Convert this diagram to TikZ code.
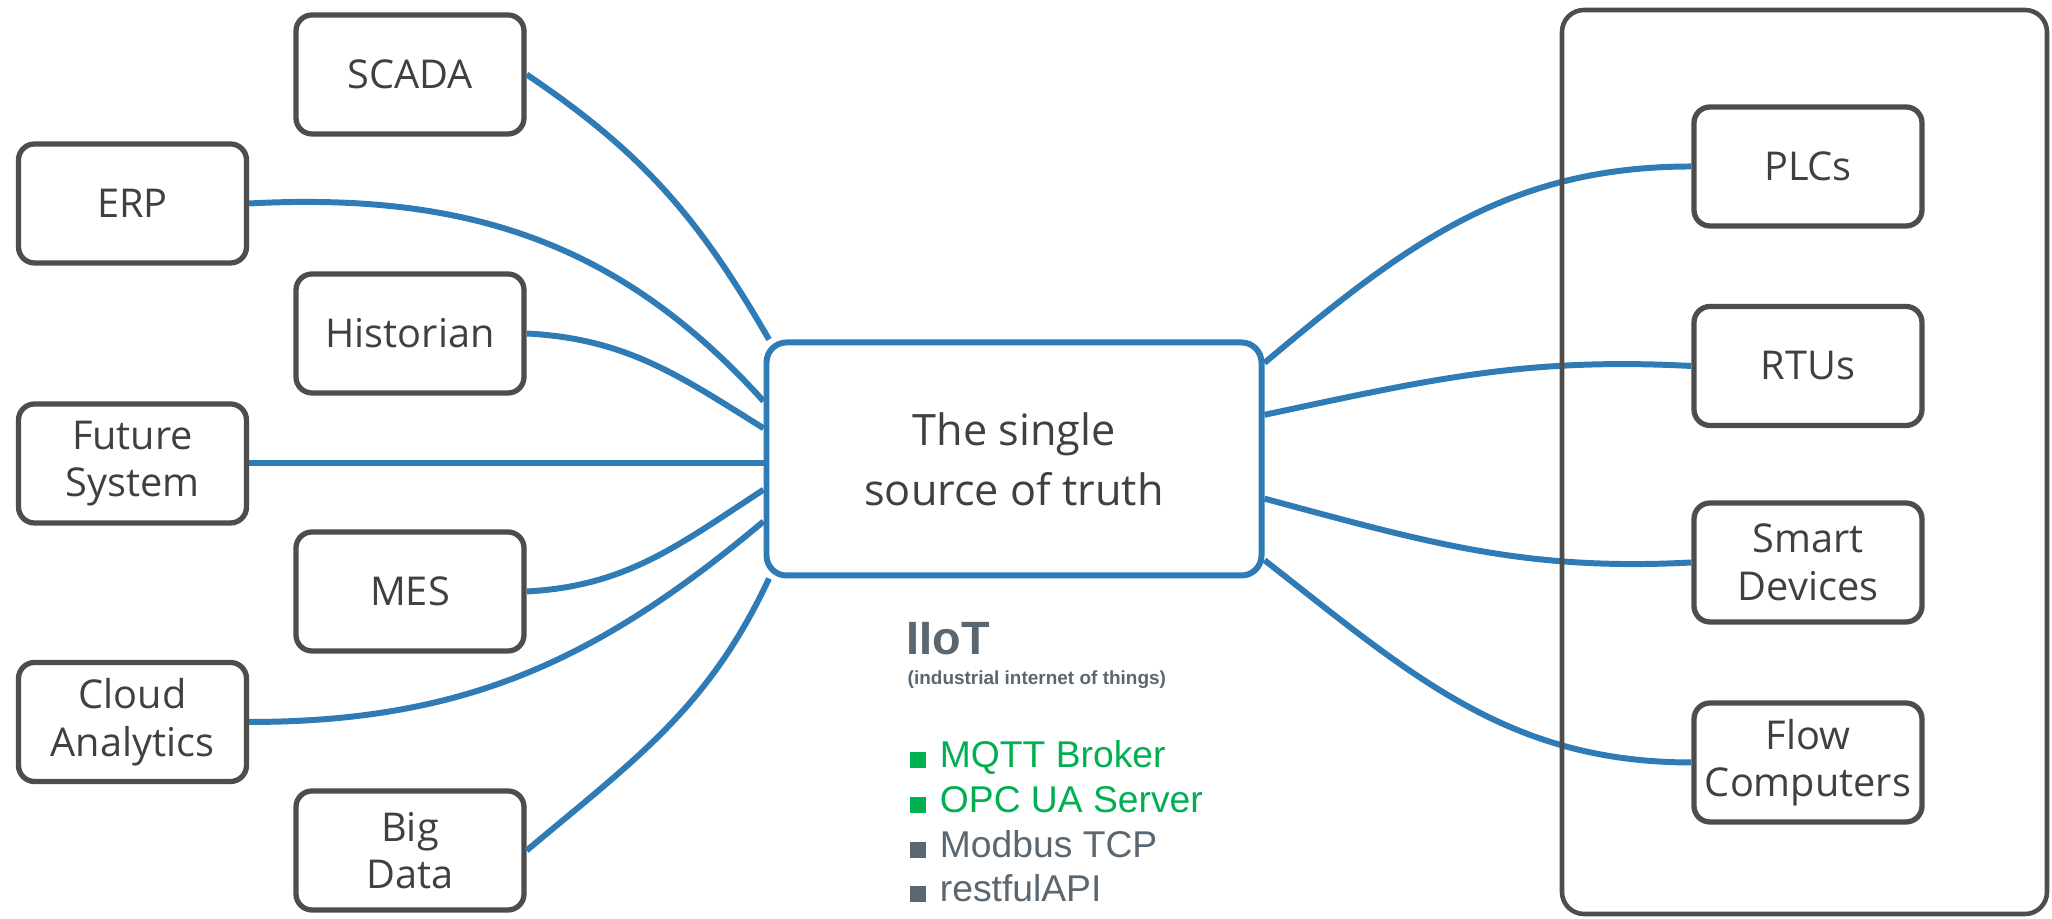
\documentclass[tikz,border=0pt]{standalone}
\usepackage{fontspec}
\setmainfont{Open Sans}
\newfontfamily\arialfont{Liberation Sans}
\usepackage{tikz}

\definecolor{linkblue}{RGB}{46,123,182}
\definecolor{boxgray}{RGB}{77,77,77}
\definecolor{textgray}{RGB}{64,64,64}
\definecolor{iotgray}{RGB}{90,102,112}
\definecolor{iotgreen}{RGB}{0,176,80}

\newcommand{\sqbullet}{\rule{4.6pt}{4.6pt}\hspace{4pt}}

\tikzset{
  sysbox/.style={draw=boxgray, line width=1.5pt, rounded corners=0.16cm, minimum width=2.28cm, minimum height=1.19cm, inner sep=2pt, align=center, text=textgray, font=\fontsize{11.3}{13.5}\selectfont},
  core/.style={draw=linkblue, line width=1.7pt, rounded corners=0.2cm, minimum width=4.95cm, minimum height=2.33cm, align=center, text=textgray, font=\fontsize{12.3}{17}\selectfont},
  link/.style={linkblue, line width=1.7pt},
  proto/.style={anchor=base west, inner sep=0pt, font=\arialfont\fontsize{10.6}{13}\selectfont},
}

\begin{document}
\begin{tikzpicture}
    \useasboundingbox (0,0) rectangle (20.52,9.19);

    % systems on the left
    \node[sysbox] (scada) at (4.10, 8.445) {SCADA};
    \node[sysbox] (erp) at (1.325, 7.155) {ERP};
    \node[sysbox] (historian) at (4.10, 5.855) {Historian};
    \node[sysbox] (future) at (1.325, 4.555) {Future\\System};
    \node[sysbox] (mes) at (4.10, 3.275) {MES};
    \node[sysbox] (cloud) at (1.325, 1.97) {Cloud\\Analytics};
    \node[sysbox] (bigdata) at (4.10, 0.685) {Big\\Data};

    \node[core] (truth) at (10.14, 4.60) {The single\\source of truth};

    % field devices on the right
    \node[sysbox] (plc) at (18.08, 7.525) {PLCs};
    \node[sysbox] (rtu) at (18.08, 5.53) {RTUs};
    \node[sysbox] (smart) at (18.08, 3.565) {Smart\\Devices};
    \node[sysbox] (flow) at (18.08, 1.565) {Flow\\Computers};

    \draw[link] (scada.east) to[out=-34, in=120] (truth.154);
    \draw[link] (erp.east) to[out=3, in=132] (truth.167);
    \draw[link] (historian.east) to[out=-3, in=148] (truth.173);
    \draw[link] (future.east) -- (future.east -| truth.west);
    \draw[link] (mes.east) to[out=3, in=213] (truth.187);
    \draw[link] (cloud.east) to[out=0, in=220] (truth.194);
    \draw[link] (bigdata.east) to[out=40, in=245] (truth.206);

    \draw[link] (truth.21) to[out=40, in=180] (plc.west);
    \draw[link] (truth.10) to[out=12, in=177] (rtu.west);
    \draw[link] (truth.-9) to[out=-15, in=183] (smart.west);
    \draw[link] (truth.-22) to[out=-38, in=180] (flow.west);

    \node[draw=boxgray, line width=1.3pt, rounded corners=0.22cm, minimum width=4.85cm, minimum height=9.04cm] (field) at (18.045, 4.57) {};

    % protocols under the core
    \node[anchor=base west, inner sep=0pt, text=iotgray, font=\arialfont\bfseries\fontsize{13.3}{16}\selectfont] (iiot) at (9.06, 2.64) {IIoT};
    \node[anchor=base west, inner sep=0pt, text=iotgray, font=\arialfont\bfseries\fontsize{5.4}{7}\selectfont] (iiotsub) at (9.07, 2.34) {(industrial internet of things)};

    \node[proto, text=iotgreen] (mqtt) at (9.09, 1.51) {\sqbullet MQTT Broker};
    \node[proto, text=iotgreen] (opcua) at (9.09, 1.06) {\sqbullet OPC UA Server};
    \node[proto, text=iotgray] (modbus) at (9.09, 0.61) {\sqbullet Modbus TCP};
    \node[proto, text=iotgray] (rest) at (9.09, 0.17) {\sqbullet restfulAPI};
\end{tikzpicture}
\end{document}
